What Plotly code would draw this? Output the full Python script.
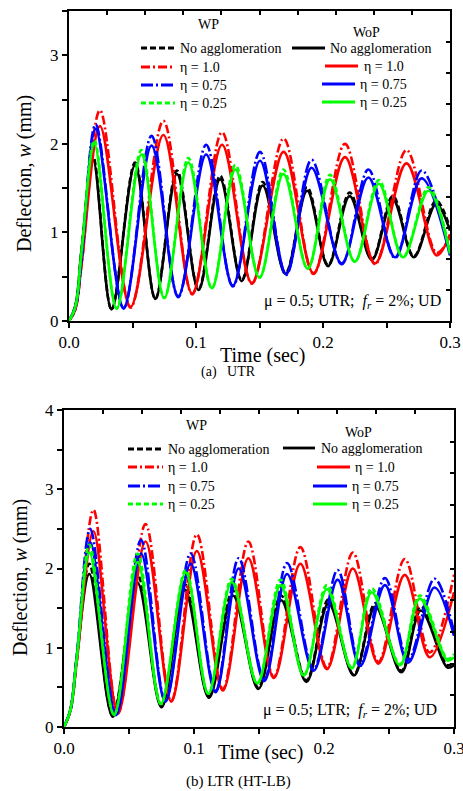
import plotly.graph_objects as go

# ---------------- data : (a) UTR ----------------
t_a_black = [0, 0.005, 0.010, 0.0190, 0.0335, 0.0520, 0.0680, 0.0850, 0.1020, 0.1190, 0.1360,
             0.1525, 0.1705, 0.1875, 0.2040, 0.2210, 0.2385, 0.2550, 0.2715, 0.2890, 0.3000]
w_a_black_wop = [0, 0.17, 0.82, 1.82, 0.13, 1.76, 0.25, 1.66, 0.35, 1.60, 0.45,
                 1.53, 0.53, 1.47, 0.62, 1.41, 0.69, 1.37, 0.72, 1.32, 1.02]
w_a_black_wp = [0, 0.17, 0.82, 1.86, 0.13, 1.79, 0.25, 1.70, 0.36, 1.64, 0.46,
                1.57, 0.54, 1.51, 0.63, 1.45, 0.70, 1.41, 0.73, 1.36, 1.05]

t_a_red = [0, 0.005, 0.010, 0.0244, 0.0485, 0.0743, 0.0970, 0.1205, 0.1440, 0.1690,
           0.1925, 0.2173, 0.2410, 0.2657, 0.2895, 0.3000]
w_a_red_wop = [0, 0.13, 0.65, 2.20, 0.16, 2.10, 0.31, 1.99, 0.43, 1.91, 0.54, 1.85, 0.65, 1.78, 0.74, 0.98]
w_a_red_wp = [0, 0.13, 0.65, 2.38, 0.15, 2.26, 0.30, 2.13, 0.42, 2.06, 0.53, 2.00, 0.64, 1.93, 0.77, 0.95]

t_a_blue = [0, 0.005, 0.010, 0.0210, 0.0430, 0.0650, 0.0860, 0.1080, 0.1290, 0.1504, 0.1710,
            0.1910, 0.2147, 0.2357, 0.2567, 0.2777, 0.3000]
w_a_blue_wop = [0, 0.15, 0.72, 2.17, 0.15, 1.98, 0.28, 1.88, 0.40, 1.81, 0.53, 1.73, 0.65, 1.62, 0.72, 1.61, 0.74]
w_a_blue_wp = [0, 0.15, 0.72, 2.22, 0.14, 2.09, 0.27, 1.99, 0.39, 1.91, 0.52, 1.82, 0.64, 1.71, 0.71, 1.70, 0.76]

t_a_green = [0, 0.005, 0.010, 0.0200, 0.0375, 0.0570, 0.0750, 0.0940, 0.1125, 0.1310, 0.1500,
             0.1688, 0.1880, 0.2055, 0.2250, 0.2440, 0.2630, 0.2830, 0.3000]
w_a_green_wop = [0, 0.16, 0.80, 2.00, 0.14, 1.88, 0.26, 1.79, 0.37, 1.71, 0.49,
                 1.66, 0.59, 1.60, 0.67, 1.55, 0.72, 1.47, 0.76]
w_a_green_wp = [0, 0.16, 0.80, 2.04, 0.14, 1.93, 0.26, 1.84, 0.37, 1.76, 0.49,
                1.71, 0.59, 1.65, 0.67, 1.59, 0.72, 1.51, 0.78]

# ---------------- data : (b) LTR (HT-LB) ----------------
t_b_black = [0, 0.005, 0.010, 0.0195, 0.0375, 0.0565, 0.0750, 0.0930, 0.1115, 0.1300, 0.1495,
             0.1670, 0.1865, 0.2035, 0.2230, 0.2395, 0.2595, 0.2745, 0.2950, 0.3000]
w_b_black_wop = [0, 0.22, 0.90, 1.93, 0.13, 1.82, 0.25, 1.73, 0.37, 1.66, 0.48,
                 1.60, 0.57, 1.56, 0.65, 1.52, 0.69, 1.47, 0.75, 0.78]
w_b_black_wp = [0, 0.22, 0.90, 2.06, 0.14, 1.92, 0.27, 1.80, 0.39, 1.72, 0.50,
                1.66, 0.59, 1.61, 0.66, 1.56, 0.71, 1.52, 0.78, 0.82]

t_b_red = [0, 0.005, 0.010, 0.0227, 0.0415, 0.0627, 0.0825, 0.1022, 0.1222, 0.1418, 0.1614,
           0.1818, 0.2022, 0.2222, 0.2418, 0.2621, 0.2813, 0.3000]
w_b_red_wop = [0, 0.21, 0.85, 2.47, 0.17, 2.34, 0.32, 2.22, 0.46, 2.13, 0.62,
               2.06, 0.73, 2.00, 0.80, 1.92, 0.88, 1.70]
w_b_red_wp = [0, 0.21, 0.85, 2.74, 0.17, 2.56, 0.33, 2.43, 0.48, 2.34, 0.63,
              2.27, 0.75, 2.20, 0.82, 2.12, 0.94, 1.92]

t_b_blue = [0, 0.005, 0.010, 0.0202, 0.0400, 0.0592, 0.0780, 0.0974, 0.1166, 0.1344, 0.1540,
            0.1716, 0.1920, 0.2105, 0.2278, 0.2469, 0.2647, 0.2850, 0.3000]
w_b_blue_wop = [0, 0.22, 0.92, 2.33, 0.15, 2.19, 0.32, 2.06, 0.44, 2.00, 0.58,
                1.93, 0.71, 1.86, 0.77, 1.79, 0.81, 1.76, 1.15]
w_b_blue_wp = [0, 0.22, 0.92, 2.50, 0.16, 2.36, 0.33, 2.19, 0.46, 2.13, 0.60,
               2.07, 0.73, 1.98, 0.80, 1.88, 0.85, 1.87, 1.20]

t_b_green = [0, 0.005, 0.010, 0.0196, 0.0385, 0.0566, 0.0745, 0.0936, 0.1110, 0.1290, 0.1487,
             0.1666, 0.1844, 0.2022, 0.2213, 0.2367, 0.2584, 0.2737, 0.2950, 0.3000]
w_b_green_wop = [0, 0.22, 0.90, 2.20, 0.15, 2.08, 0.29, 1.95, 0.42, 1.83, 0.55,
                 1.79, 0.65, 1.74, 0.74, 1.70, 0.78, 1.62, 0.84, 0.88]
w_b_green_wp = [0, 0.22, 0.90, 2.30, 0.15, 2.19, 0.29, 1.98, 0.42, 1.87, 0.55,
                1.86, 0.65, 1.79, 0.75, 1.75, 0.79, 1.66, 0.86, 0.92]

series_labels = ["No agglomeration", "η = 1.0", "η = 0.75", "η = 0.25"]
x_tick_vals = [0.0, 0.1, 0.2, 0.3]
x_tick_text = ["0.0", "0.1", "0.2", "0.3"]
x_minor_vals = [0.05, 0.15, 0.25]
y_tick_vals_a = [0, 1, 2, 3]
y_minor_vals_a = [0.5, 1.5, 2.5, 3.5]
y_tick_vals_b = [0, 1, 2, 3, 4]
y_minor_vals_b = [0.5, 1.5, 2.5, 3.5]

# ---------------- styling ----------------
FONT = "Liberation Serif, Times New Roman, serif"
COL = ["#000000", "#ff0000", "#0000ff", "#00ff00"]
WP_DASH = ["6px,3px", "9px,3px,2px,3px", "12px,3px,2px,3px", "5px,3px"]
LW = 2.6

W, H = 463, 791
ML, MR, MT, MB = 64, 9, 11, 64


def px(p):
    return (p - ML) / (W - ML - MR)


def py(p):
    return (H - MB - p) / (H - MT - MB)


panels = [
    dict(xa="x", ya="y",
         series=[(t_a_black, w_a_black_wp, w_a_black_wop), (t_a_red, w_a_red_wp, w_a_red_wop),
                 (t_a_blue, w_a_blue_wp, w_a_blue_wop), (t_a_green, w_a_green_wp, w_a_green_wop)]),
    dict(xa="x2", ya="y2",
         series=[(t_b_black, w_b_black_wp, w_b_black_wop), (t_b_red, w_b_red_wp, w_b_red_wop),
                 (t_b_blue, w_b_blue_wp, w_b_blue_wop), (t_b_green, w_b_green_wp, w_b_green_wop)]),
]

fig = go.Figure()
for p in panels:
    for i, (t, wp, wop) in enumerate(p["series"]):
        fig.add_trace(go.Scatter(x=t, y=wp, mode="lines", xaxis=p["xa"], yaxis=p["ya"],
                                 name="WP " + series_labels[i], showlegend=False,
                                 line=dict(color=COL[i], width=LW, dash=WP_DASH[i],
                                           shape="spline", smoothing=1)))
        fig.add_trace(go.Scatter(x=t, y=wop, mode="lines", xaxis=p["xa"], yaxis=p["ya"],
                                 name="WoP " + series_labels[i], showlegend=False,
                                 line=dict(color=COL[i], width=LW, shape="spline", smoothing=1)))

# dummy traces so the mirror axes get drawn
for xa, ya in [("x3", "y"), ("x", "y3"), ("x4", "y2"), ("x2", "y4")]:
    fig.add_trace(go.Scatter(x=[None], y=[None], xaxis=xa, yaxis=ya, showlegend=False,
                             hoverinfo="skip"))

tickfont = dict(family=FONT, size=17, color="black")
minor_style = dict(ticks="outside", ticklen=5, tickwidth=1.5, tickcolor="black", showgrid=False)
common_x = dict(range=[0, 0.3], tickvals=x_tick_vals, ticktext=x_tick_text, ticks="outside",
                ticklen=5, tickwidth=1.5, tickcolor="black", showline=True, linecolor="black",
                linewidth=2, showgrid=False, zeroline=False, tickfont=tickfont, automargin=False,
                ticklabeloverflow="allow", minor=dict(tickvals=x_minor_vals, **minor_style))
common_y = dict(ticks="outside", ticklen=5, tickwidth=1.5, tickcolor="black", showline=True,
                linecolor="black", linewidth=2, showgrid=False, zeroline=False,
                tickfont=tickfont, automargin=False)
mirror = dict(ticks="inside", ticklen=4, tickwidth=1.5, tickcolor="black", showline=True,
              linecolor="black", linewidth=2, showgrid=False, zeroline=False,
              showticklabels=False, automargin=False)

dom_top_x = [px(69), px(450)]
dom_top_y = [py(321), py(11)]
dom_bot_x = [px(64), px(454)]
dom_bot_y = [py(727), py(410)]

fig.update_layout(
    width=W, height=H, margin=dict(l=ML, r=MR, t=MT, b=MB),
    paper_bgcolor="white", plot_bgcolor="white", showlegend=False,
    font=dict(family=FONT, color="black"),
    xaxis=dict(domain=dom_top_x, anchor="y", **common_x),
    yaxis=dict(domain=dom_top_y, anchor="x", range=[0, 3.5], tickvals=y_tick_vals_a,
               minor=dict(tickvals=y_minor_vals_a, **minor_style), **common_y),
    xaxis2=dict(domain=dom_bot_x, anchor="y2", **common_x),
    yaxis2=dict(domain=dom_bot_y, anchor="x2", range=[0, 4], tickvals=y_tick_vals_b,
                minor=dict(tickvals=y_minor_vals_b, **minor_style), **common_y),
    xaxis3=dict(overlaying="x", side="top", anchor="y", range=[0, 0.3], tick0=0, dtick=0.03, **mirror),
    yaxis3=dict(overlaying="y", side="right", anchor="x", range=[0, 3.5], tick0=0, dtick=0.35, **mirror),
    xaxis4=dict(overlaying="x2", side="top", anchor="y2", range=[0, 0.3], tick0=0, dtick=0.03, **mirror),
    yaxis4=dict(overlaying="y2", side="right", anchor="x2", range=[0, 4], tick0=0, dtick=0.4, **mirror),
)

shapes = []
annots = []


def text(s, x, y, size, xanchor="center", angle=0):
    annots.append(dict(text=s, x=px(x), y=py(y), xref="paper", yref="paper", showarrow=False,
                       xanchor=xanchor, yanchor="middle", textangle=angle,
                       font=dict(family=FONT, size=size, color="black")))


def legend_row(x0, x1, xt, y, i, wp):
    line = dict(color=COL[i], width=2.8)
    if wp:
        line["dash"] = WP_DASH[i]
    shapes.append(dict(type="line", xref="paper", yref="paper", x0=px(x0), x1=px(x1),
                       y0=py(y), y1=py(y), line=line))
    text(series_labels[i], xt, y, 14, xanchor="left")


# legend layouts (pixel positions)
leg_top_wp = [(141, 175, 178, 48), (141, 175, 178, 67), (141, 175, 178, 85), (141, 175, 178, 103)]
leg_top_wop = [(292, 325, 328, 48), (325, 358, 362, 66), (322, 355, 358, 84), (322, 355, 358, 102)]
leg_bot_wp = [(128, 163, 166, 449), (128, 163, 166, 467), (128, 163, 166, 486), (128, 163, 166, 504)]
leg_bot_wop = [(283, 315, 319, 448), (317, 350, 353, 467), (313, 347, 350, 486), (313, 347, 350, 504)]

for i in range(4):
    legend_row(*leg_top_wp[i], i, True)
    legend_row(*leg_top_wop[i], i, False)
    legend_row(*leg_bot_wp[i], i, True)
    legend_row(*leg_bot_wop[i], i, False)

text("WP", 208, 25, 14)
text("WoP", 366, 32, 14)
text("WP", 196, 425, 14)
text("WoP", 358, 432, 14)

text("μ = 0.5; UTR;\u00a0 <i>f</i><sub><i>r</i></sub> = 2%; UD", 443, 301, 16, xanchor="right")
text("μ = 0.5; LTR;\u00a0 <i>f</i><sub><i>r</i></sub> = 2%; UD", 439, 710, 16, xanchor="right")

text("Time (sec)", 262, 355, 20)
text("Time (sec)", 260, 752, 20)
text("Deflection, <i>w</i> (mm)", 24, 174, 20, angle=-90)
text("Deflection, <i>w</i> (mm)", 20, 578, 20, angle=-90)

text("(a)\u00a0\u00a0\u00a0UTR", 228, 372, 14)
text("(b) LTR (HT-LB)", 238, 781, 15)

fig.update_layout(shapes=shapes, annotations=annots)
fig.write_html(
    "out.html",
    config={"displayModeBar": False},
    post_script="document.body.style.margin='0';document.body.style.overflow='hidden';"
                "window.dispatchEvent(new Event('resize'));",
)
